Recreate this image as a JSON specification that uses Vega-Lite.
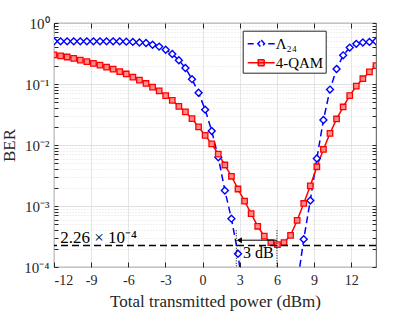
{
  "$schema": "https://vega.github.io/schema/vega-lite/v6.json",
  "width": 322,
  "height": 244,
  "autosize": {"type": "none"},
  "padding": {"left": 54, "top": 23, "right": 39, "bottom": 45},
  "background": "white",
  "config": {
    "view": {"stroke": "#262626", "strokeWidth": 0.8},
    "font": "Liberation Serif",
    "axis": {
      "domain": false,
      "labelFont": "Liberation Serif",
      "titleFont": "Liberation Serif",
      "labelColor": "#262626",
      "titleColor": "#262626",
      "tickColor": "#262626",
      "titleFontWeight": "normal",
      "labelFontSize": 14,
      "titleFontSize": 17
    }
  },
  "resolve": {"axis": {"x": "independent", "y": "independent"}},
  "datasets": {
    "curves": [
      {"x": -12, "ber": 0.5, "series": "Λ₂₄"},
      {"x": -11.469, "ber": 0.5, "series": "Λ₂₄"},
      {"x": -10.939, "ber": 0.5, "series": "Λ₂₄"},
      {"x": -10.408, "ber": 0.5, "series": "Λ₂₄"},
      {"x": -9.878, "ber": 0.5, "series": "Λ₂₄"},
      {"x": -9.347, "ber": 0.5, "series": "Λ₂₄"},
      {"x": -8.816, "ber": 0.5, "series": "Λ₂₄"},
      {"x": -8.286, "ber": 0.5, "series": "Λ₂₄"},
      {"x": -7.755, "ber": 0.5, "series": "Λ₂₄"},
      {"x": -7.224, "ber": 0.5, "series": "Λ₂₄"},
      {"x": -6.694, "ber": 0.5, "series": "Λ₂₄"},
      {"x": -6.163, "ber": 0.495, "series": "Λ₂₄"},
      {"x": -5.633, "ber": 0.49, "series": "Λ₂₄"},
      {"x": -5.102, "ber": 0.48, "series": "Λ₂₄"},
      {"x": -4.571, "ber": 0.47, "series": "Λ₂₄"},
      {"x": -4.041, "ber": 0.44, "series": "Λ₂₄"},
      {"x": -3.51, "ber": 0.41, "series": "Λ₂₄"},
      {"x": -2.98, "ber": 0.365, "series": "Λ₂₄"},
      {"x": -2.449, "ber": 0.31, "series": "Λ₂₄"},
      {"x": -1.918, "ber": 0.245, "series": "Λ₂₄"},
      {"x": -1.388, "ber": 0.183, "series": "Λ₂₄"},
      {"x": -0.857, "ber": 0.12, "series": "Λ₂₄"},
      {"x": -0.327, "ber": 0.072, "series": "Λ₂₄"},
      {"x": 0.204, "ber": 0.038, "series": "Λ₂₄"},
      {"x": 0.735, "ber": 0.017, "series": "Λ₂₄"},
      {"x": 1.265, "ber": 0.0063, "series": "Λ₂₄"},
      {"x": 1.796, "ber": 0.0018, "series": "Λ₂₄"},
      {"x": 2.327, "ber": 0.00062, "series": "Λ₂₄"},
      {"x": 2.857, "ber": 0.000165, "series": "Λ₂₄"},
      {"x": 3.388, "ber": 0.000023, "series": "Λ₂₄"},
      {"x": 7.633, "ber": 0.00005, "series": "Λ₂₄"},
      {"x": 8.163, "ber": 0.000285, "series": "Λ₂₄"},
      {"x": 8.694, "ber": 0.00123, "series": "Λ₂₄"},
      {"x": 9.224, "ber": 0.006, "series": "Λ₂₄"},
      {"x": 9.755, "ber": 0.0257, "series": "Λ₂₄"},
      {"x": 10.286, "ber": 0.081, "series": "Λ₂₄"},
      {"x": 10.816, "ber": 0.176, "series": "Λ₂₄"},
      {"x": 11.347, "ber": 0.295, "series": "Λ₂₄"},
      {"x": 11.878, "ber": 0.395, "series": "Λ₂₄"},
      {"x": 12.408, "ber": 0.455, "series": "Λ₂₄"},
      {"x": 12.939, "ber": 0.48, "series": "Λ₂₄"},
      {"x": 13.469, "ber": 0.49, "series": "Λ₂₄"},
      {"x": 14, "ber": 0.5, "series": "Λ₂₄"},
      {"x": -12, "ber": 0.3, "series": "4-QAM"},
      {"x": -11.469, "ber": 0.29, "series": "4-QAM"},
      {"x": -10.939, "ber": 0.277, "series": "4-QAM"},
      {"x": -10.408, "ber": 0.263, "series": "4-QAM"},
      {"x": -9.878, "ber": 0.247, "series": "4-QAM"},
      {"x": -9.347, "ber": 0.232, "series": "4-QAM"},
      {"x": -8.816, "ber": 0.218, "series": "4-QAM"},
      {"x": -8.286, "ber": 0.204, "series": "4-QAM"},
      {"x": -7.755, "ber": 0.189, "series": "4-QAM"},
      {"x": -7.224, "ber": 0.175, "series": "4-QAM"},
      {"x": -6.694, "ber": 0.16, "series": "4-QAM"},
      {"x": -6.163, "ber": 0.146, "series": "4-QAM"},
      {"x": -5.633, "ber": 0.13, "series": "4-QAM"},
      {"x": -5.102, "ber": 0.116, "series": "4-QAM"},
      {"x": -4.571, "ber": 0.102, "series": "4-QAM"},
      {"x": -4.041, "ber": 0.089, "series": "4-QAM"},
      {"x": -3.51, "ber": 0.077, "series": "4-QAM"},
      {"x": -2.98, "ber": 0.0645, "series": "4-QAM"},
      {"x": -2.449, "ber": 0.054, "series": "4-QAM"},
      {"x": -1.918, "ber": 0.043, "series": "4-QAM"},
      {"x": -1.388, "ber": 0.035, "series": "4-QAM"},
      {"x": -0.857, "ber": 0.027, "series": "4-QAM"},
      {"x": -0.327, "ber": 0.0198, "series": "4-QAM"},
      {"x": 0.204, "ber": 0.0144, "series": "4-QAM"},
      {"x": 0.735, "ber": 0.0104, "series": "4-QAM"},
      {"x": 1.265, "ber": 0.0071, "series": "4-QAM"},
      {"x": 1.796, "ber": 0.0047, "series": "4-QAM"},
      {"x": 2.327, "ber": 0.00307, "series": "4-QAM"},
      {"x": 2.857, "ber": 0.0019, "series": "4-QAM"},
      {"x": 3.388, "ber": 0.0012, "series": "4-QAM"},
      {"x": 3.918, "ber": 0.00075, "series": "4-QAM"},
      {"x": 4.449, "ber": 0.000465, "series": "4-QAM"},
      {"x": 4.98, "ber": 0.00032, "series": "4-QAM"},
      {"x": 5.51, "ber": 0.000252, "series": "4-QAM"},
      {"x": 6.041, "ber": 0.000232, "series": "4-QAM"},
      {"x": 6.571, "ber": 0.000252, "series": "4-QAM"},
      {"x": 7.102, "ber": 0.00033, "series": "4-QAM"},
      {"x": 7.633, "ber": 0.00058, "series": "4-QAM"},
      {"x": 8.163, "ber": 0.0011, "series": "4-QAM"},
      {"x": 8.694, "ber": 0.00214, "series": "4-QAM"},
      {"x": 9.224, "ber": 0.0044, "series": "4-QAM"},
      {"x": 9.755, "ber": 0.0085, "series": "4-QAM"},
      {"x": 10.286, "ber": 0.0155, "series": "4-QAM"},
      {"x": 10.816, "ber": 0.0267, "series": "4-QAM"},
      {"x": 11.347, "ber": 0.042, "series": "4-QAM"},
      {"x": 11.878, "ber": 0.0645, "series": "4-QAM"},
      {"x": 12.408, "ber": 0.092, "series": "4-QAM"},
      {"x": 12.939, "ber": 0.122, "series": "4-QAM"},
      {"x": 13.469, "ber": 0.158, "series": "4-QAM"},
      {"x": 14, "ber": 0.2, "series": "4-QAM"}
    ]
  },
  "layer": [
    {
      "data": {"name": "curves"},
      "mark": {"type": "line", "strokeWidth": 1.5, "clip": true},
      "encoding": {
        "x": {
          "field": "x", "type": "quantitative",
          "scale": {"domain": [-12, 14], "nice": false, "zero": false},
          "axis": {
            "title": "Total transmitted power (dBm)",
            "values": [-12, -9, -6, -3, 0, 3, 6, 9, 12],
            "labelExpr": "datum.value < 0 ? '-' + abs(datum.value) : '' + datum.value",
            "grid": true, "gridColor": "#dedede", "gridWidth": 0.8,
            "tickSize": -5, "labelPadding": 11, "titlePadding": 6
          }
        },
        "y": {
          "field": "ber", "type": "quantitative",
          "scale": {"type": "log", "domain": [0.0001, 1], "nice": false},
          "axis": {
            "title": "BER",
            "values": [0.0001, 0.0002, 0.0003, 0.0004, 0.0005, 0.0006, 0.0007, 0.0008, 0.0009, 0.001, 0.002, 0.003, 0.004, 0.005, 0.006, 0.007, 0.008, 0.009, 0.01, 0.02, 0.03, 0.04, 0.05, 0.06, 0.07, 0.08, 0.09, 0.1, 0.2, 0.3, 0.4, 0.5, 0.6, 0.7, 0.8, 0.9, 1],
            "labelExpr": "datum.value == 1 ? '10⁰' : datum.value == 0.1 ? '10⁻¹' : datum.value == 0.01 ? '10⁻²' : datum.value == 0.001 ? '10⁻³' : datum.value == 0.0001 ? '10⁻⁴' : ''",
            "labelFontSize": 15,
            "grid": true,
            "gridColor": "#d8d8d8",
            "gridWidth": 0.8,
            "gridDash": {"condition": {"test": "indexof([1, 0.1, 0.01, 0.001, 0.0001], datum.value) >= 0", "value": []}, "value": [1, 2]},
            "tickSize": -4, "labelPadding": 9, "titlePadding": 5
          }
        },
        "color": {
          "field": "series", "type": "nominal",
          "scale": {"domain": ["Λ₂₄", "4-QAM"], "range": ["#0000ff", "#ff0000"]},
          "legend": {
            "title": null, "orient": "none", "legendX": 188.7, "legendY": 7.7,
            "labelFont": "Liberation Serif", "labelFontSize": 15, "labelColor": "black",
            "strokeColor": "#262626", "fillColor": "white", "padding": 2,
            "rowPadding": 0, "symbolSize": 400, "symbolStrokeWidth": 1.5, "labelOffset": 3.5,
            "symbolOffset": 5.5,
            "symbolType": "M-1,0H1",
            "encode": {"symbols": {"update": {
              "shape": {"signal": "datum.value === '4-QAM' ? 'M-1.35,0H1.35M-0.3,-0.3H0.3V0.3H-0.3Z' : 'M-1.35,0H-0.75M0.7,0H1.35M0,-0.36L0.33,0L0,0.36L-0.33,0Z'"},
              "fill": {"signal": "datum.value === '4-QAM' ? '#ff8c8c' : '#ffffff'"},
              "strokeDash": {"value": [1, 0]}
            }}}
          }
        },
        "strokeDash": {
          "field": "series", "type": "nominal",
          "scale": {"domain": ["Λ₂₄", "4-QAM"], "range": [[7, 4], [1, 0]]},
          "legend": null
        }
      }
    },
    {
      "data": {"name": "curves"},
      "transform": [{"filter": "datum.series === 'Λ₂₄'"}],
      "mark": {"type": "point", "shape": "diamond", "filled": true, "fill": "#ffffff", "stroke": "#0000ff", "strokeWidth": 1.4, "opacity": 1, "size": 48, "clip": true},
      "encoding": {
        "x": {"field": "x", "type": "quantitative", "axis": null},
        "y": {"field": "ber", "type": "quantitative", "axis": null}
      }
    },
    {
      "data": {"name": "curves"},
      "transform": [{"filter": "datum.series === '4-QAM'"}],
      "mark": {"type": "point", "shape": "square", "filled": true, "fill": "#ff8c8c", "stroke": "#ff0000", "strokeWidth": 1.3, "opacity": 1, "size": 30, "clip": true},
      "encoding": {
        "x": {"field": "x", "type": "quantitative", "axis": null},
        "y": {"field": "ber", "type": "quantitative", "axis": null}
      }
    },
    {
      "data": {"values": [{"ber": 0.000226}]},
      "mark": {"type": "rule", "color": "black", "strokeWidth": 1.5, "strokeDash": [7, 4]},
      "encoding": {"y": {"field": "ber", "type": "quantitative", "axis": {
        "orient": "right", "title": null, "labels": false, "grid": false, "tickSize": -4,
        "values": [0.0001, 0.0002, 0.0003, 0.0004, 0.0005, 0.0006, 0.0007, 0.0008, 0.0009, 0.001, 0.002, 0.003, 0.004, 0.005, 0.006, 0.007, 0.008, 0.009, 0.01, 0.02, 0.03, 0.04, 0.05, 0.06, 0.07, 0.08, 0.09, 0.1, 0.2, 0.3, 0.4, 0.5, 0.6, 0.7, 0.8, 0.9, 1]
      }}}
    },
    {
      "data": {"values": [{"x": 2.72, "ber": 0.0004, "ber2": 0.0001}, {"x": 6.0, "ber": 0.0004, "ber2": 0.0001}]},
      "mark": {"type": "rule", "color": "black", "strokeWidth": 1, "strokeDash": [1, 1.5]},
      "encoding": {
        "x": {"field": "x", "type": "quantitative", "axis": {
          "orient": "top", "title": null, "labels": false, "grid": false, "tickSize": -5,
          "values": [-12, -9, -6, -3, 0, 3, 6, 9, 12]
        }},
        "y": {"field": "ber", "type": "quantitative", "axis": null},
        "y2": {"field": "ber2"}
      }
    },
    {
      "data": {"values": [{"x": 2.96, "x2": 6.0, "ber": 0.000275}]},
      "mark": {"type": "rule", "color": "black", "strokeWidth": 1},
      "encoding": {
        "x": {"field": "x", "type": "quantitative", "axis": null},
        "x2": {"field": "x2"},
        "y": {"field": "ber", "type": "quantitative", "axis": null}
      }
    },
    {
      "data": {"values": [{"x": 2.96, "ber": 0.000275}]},
      "mark": {"type": "point", "shape": "triangle-left", "filled": true, "color": "black", "opacity": 1, "size": 36},
      "encoding": {
        "x": {"field": "x", "type": "quantitative", "axis": null},
        "y": {"field": "ber", "type": "quantitative", "axis": null}
      }
    },
    {
      "data": {"values": [{"x": -11.5, "ber": 0.00025, "label": "2.26 × 10⁻⁴"}]},
      "mark": {"type": "text", "align": "left", "baseline": "alphabetic", "font": "Liberation Serif", "fontSize": 17, "color": "black"},
      "encoding": {
        "x": {"field": "x", "type": "quantitative", "axis": null},
        "y": {"field": "ber", "type": "quantitative", "axis": null},
        "text": {"field": "label"}
      }
    },
    {
      "data": {"values": [{"x": 4.49, "ber": 0.000168, "label": "3 dB"}]},
      "mark": {"type": "text", "align": "center", "baseline": "middle", "font": "Liberation Serif", "fontSize": 16, "color": "black"},
      "encoding": {
        "x": {"field": "x", "type": "quantitative", "axis": null},
        "y": {"field": "ber", "type": "quantitative", "axis": null},
        "text": {"field": "label"}
      }
    }
  ]
}
